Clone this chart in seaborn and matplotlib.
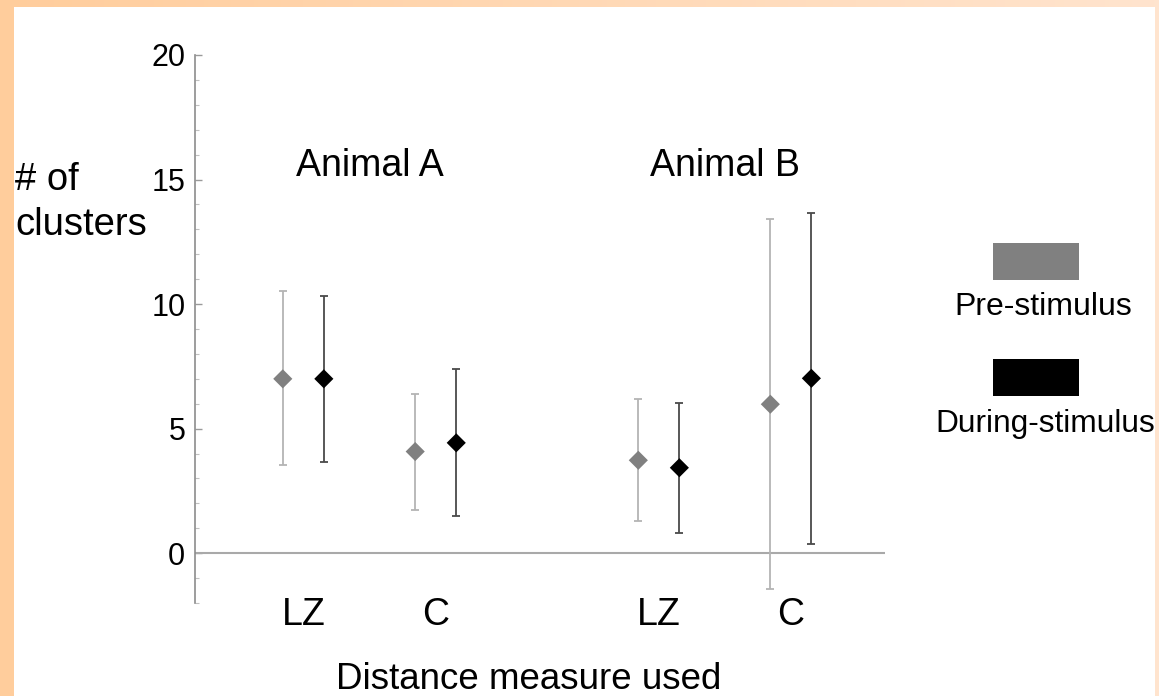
import numpy as np
import pandas as pd
import matplotlib
matplotlib.use("Agg")
import matplotlib.pyplot as plt
import seaborn as sns
from matplotlib.patches import Rectangle
from matplotlib.colors import LinearSegmentedColormap
from matplotlib.ticker import MultipleLocator

# ---------------- data ----------------
animals = ["Animal A", "Animal A", "Animal B", "Animal B"]
measures = ["LZ", "C", "LZ", "C"]
conditions = ["Pre-stimulus", "During-stimulus"]

pre_mean = [7.0, 4.08, 3.73, 5.98]
pre_low = [3.53, 1.75, 1.30, -1.45]
pre_high = [10.51, 6.41, 6.17, 13.41]

dur_mean = [7.0, 4.43, 3.43, 7.02]
dur_low = [3.67, 1.50, 0.83, 0.36]
dur_high = [10.33, 7.38, 6.01, 13.65]

y_ticks = [0, 5, 10, 15, 20]
y_label_lines = ["# of", "clusters"]
x_label = "Distance measure used"

# ---------------- layout ----------------
x_pos = np.array([0.0, 1.0, 2.685, 3.682])
dodge = 0.155

sns.set_style("white")
plt.rcParams["font.family"] = ["Liberation Sans", "DejaVu Sans"]
plt.rcParams["text.color"] = "black"
plt.rcParams["ytick.color"] = "black"

W, H = 1159, 696
fig = plt.figure(figsize=(W / 100, H / 100), dpi=100)
fig.patch.set_facecolor("white")


def fx(x):
    return x / W


def fy(y):
    return 1 - y / H


# background / border + free text in pixel coordinates
bg = fig.add_axes([0, 0, 1, 1], zorder=-10)
grad = np.linspace(0, 1, 256)[None, :]
cmap = LinearSegmentedColormap.from_list("b", ["#FFCD9C", "#FFE4CE"])
bg.imshow(grad, extent=(0, W, 7, 0), cmap=cmap, aspect="auto")
bg.add_patch(Rectangle((0, 0), 14, H, color="#FFCD9C", lw=0))
bg.add_patch(Rectangle((1155, 0), 4, H, color="#FFE4CE", lw=0))
bg.set_xlim(0, W)
bg.set_ylim(H, 0)
bg.axis("off")

# main axes
ax = fig.add_axes([fx(195), fy(603), fx(885) - fx(195), fy(55) - fy(603)])
ax.set_facecolor("none")

rows = []
for i in range(4):
    rows.append({"x": x_pos[i] - dodge, "value": pre_mean[i], "condition": conditions[0]})
    rows.append({"x": x_pos[i] + dodge, "value": dur_mean[i], "condition": conditions[1]})
df = pd.DataFrame(rows)

ax.axhline(0, color="#a9a9a9", lw=1.5, zorder=1)

pm = np.array(pre_mean)
dm = np.array(dur_mean)
ax.errorbar(x_pos - dodge, pm, yerr=[pm - np.array(pre_low), np.array(pre_high) - pm],
            fmt="none", ecolor="#b4b4b4", elinewidth=1.3, capsize=3, capthick=1.3, zorder=2)
ax.errorbar(x_pos + dodge, dm, yerr=[dm - np.array(dur_low), np.array(dur_high) - dm],
            fmt="none", ecolor="#4a4a4a", elinewidth=1.3, capsize=3, capthick=1.3, zorder=2)

sns.scatterplot(data=df, x="x", y="value", hue="condition",
                palette={conditions[0]: "#808080", conditions[1]: "#000000"},
                marker="D", s=95, linewidth=0, legend=False, ax=ax, zorder=3)

ax.set_xlim(-0.818, 4.393)
ax.set_ylim(-2, 20)
ax.set_xlabel("")
ax.set_ylabel("")
ax.set_xticks([])
ax.set_yticks(y_ticks)
ax.yaxis.set_minor_locator(MultipleLocator(1))
ax.tick_params(axis="y", which="major", direction="in", length=5, width=1,
               color="#9a9a9a", labelsize=22, labelcolor="black", pad=7, left=True)
ax.tick_params(axis="y", which="minor", direction="in", length=3, width=0.8,
               color="#c0c0c0", left=True)
for s in ["top", "right", "bottom"]:
    ax.spines[s].set_visible(False)
ax.spines["left"].set_color("#8c8c8c")
ax.spines["left"].set_linewidth(1.2)

# category labels
for xp, m in zip(x_pos, measures):
    ax.text(xp, -2.9, m, ha="center", va="baseline", fontsize=27, clip_on=False)

# animal labels
for a in ["Animal A", "Animal B"]:
    idx = [i for i, v in enumerate(animals) if v == a]
    xc = x_pos[idx].mean()
    ax.text(xc, 15.15, a, ha="center", va="baseline", fontsize=27)

# y label
bg.text(15, 190, y_label_lines[0], ha="left", va="baseline", fontsize=27.5)
bg.text(15, 235, y_label_lines[1], ha="left", va="baseline", fontsize=27.5)

# x label
bg.text(529, 689, x_label, ha="center", va="baseline", fontsize=26.5)

# legend
bg.add_patch(Rectangle((993, 243), 86, 37, color="#808080", lw=0))
bg.add_patch(Rectangle((993, 359), 86, 37, color="#000000", lw=0))
bg.text(1043, 315, conditions[0], ha="center", va="baseline", fontsize=23)
bg.text(1045, 432, conditions[1], ha="center", va="baseline", fontsize=22.8)

fig.savefig("out.png", dpi=100, facecolor="white")
